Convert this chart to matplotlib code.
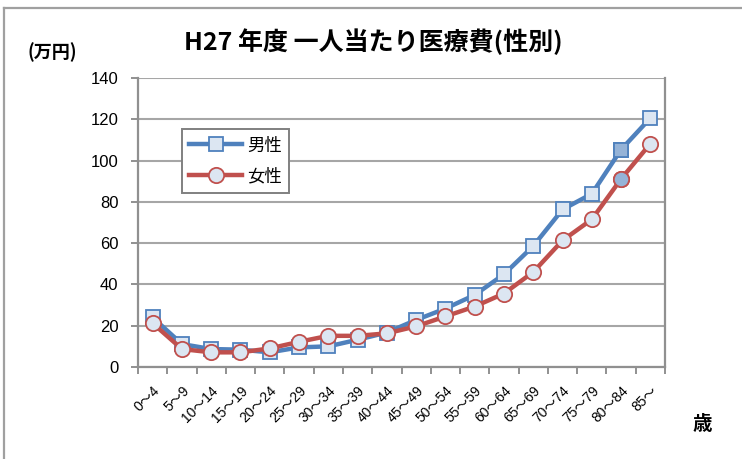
import matplotlib
matplotlib.use("Agg")
import matplotlib.pyplot as plt
from matplotlib.lines import Line2D
import numpy as np

plt.rcParams['font.family'] = ['Liberation Sans', 'Noto Sans CJK JP', 'DejaVu Sans']

categories = ["0～4", "5～9", "10～14", "15～19", "20～24", "25～29", "30～34", "35～39",
              "40～44", "45～49", "50～54", "55～59", "60～64", "65～69", "70～74", "75～79",
              "80～84", "85～"]
male = [24.0, 11.1, 8.7, 8.4, 7.1, 9.5, 10.0, 13.2, 16.7, 22.8, 28.3, 34.9, 44.9,
        58.6, 76.3, 83.9, 105.3, 120.6]
female = [21.2, 8.7, 7.1, 7.1, 9.0, 12.2, 15.1, 15.1, 16.3, 19.7, 24.5, 29.3, 35.6,
          46.0, 61.3, 71.5, 91.1, 108.2]
highlight_idx = 16
yticks = [0, 20, 40, 60, 80, 100, 120, 140]

blue = '#4F81BD'
red = '#C0504D'
light = '#DCE6F2'
hl = '#95B3D7'
grid = '#A6A6A6'

fig = plt.figure(figsize=(7.42, 4.59), dpi=100)
ax = fig.add_axes([138/742, 1-367/459, (665-138)/742, (367-78)/459])

x = np.arange(len(categories))
ax.plot(x, male, color=blue, lw=3.2, marker='s', ms=10, mfc=light, mec=blue, mew=1.3,
        zorder=3, solid_joinstyle='miter')
ax.plot(x, female, color=red, lw=3.2, marker='o', ms=11, mfc=light, mec=red, mew=1.3,
        zorder=4)
ax.plot([x[highlight_idx]], [male[highlight_idx]], ls='none', marker='s', ms=10, mfc=hl,
        mec=blue, mew=1.3, zorder=5)
ax.plot([x[highlight_idx]], [female[highlight_idx]], ls='none', marker='o', ms=11, mfc=hl,
        mec=red, mew=1.3, zorder=5)

ax.set_xlim(-0.5, len(categories) - 0.5)
ax.set_ylim(0, 140)
ax.set_yticks(yticks)
ax.set_yticklabels([str(v) for v in yticks], fontsize=12)
ax.yaxis.grid(True, color=grid, lw=1.5)
ax.set_axisbelow(True)
for s in ['left', 'bottom', 'right']:
    ax.spines[s].set_color('#909090')
    ax.spines[s].set_linewidth(1.6)
ax.spines['top'].set_visible(False)
ax.tick_params(axis='y', length=5, width=1.4, color='#909090', pad=9)

ax.set_xticks(x)
ax.set_xticklabels(categories, rotation=45, ha='right', rotation_mode='anchor', fontsize=10)
ax.set_xticks(np.arange(-0.5, len(categories)), minor=True)
ax.tick_params(axis='x', which='major', length=0, pad=12)
ax.tick_params(axis='x', which='minor', length=5, width=1.4, color='#909090')

leg_handles = [
    Line2D([0], [0], color=blue, lw=3.2, marker='s', ms=10, mfc=light, mec=blue, mew=1.3),
    Line2D([0], [0], color=red, lw=3.2, marker='o', ms=11, mfc=light, mec=red, mew=1.3),
]
leg = ax.legend(leg_handles, ['男性', '女性'], loc='upper left',
                bbox_to_anchor=((173-138)/527, (367-120)/289), fancybox=False,
                edgecolor='#808080', framealpha=1, prop={'family': ['Noto Sans CJK JP'], 'size': 12.5},
                handlelength=3.0, handletextpad=0.3, borderpad=0.45, labelspacing=0.75)
leg.get_frame().set_linewidth(1.4)

fig.text(373/742, 1-42/459, 'H27 年度 一人当たり医療費(性別)', ha='center', va='center',
         fontsize=18, fontweight='bold', family=['Noto Sans CJK JP'])
fig.text(52/742, 1-52/459, '(万円)', ha='center', va='center', fontsize=13,
         fontweight='bold', family=['Noto Sans CJK JP'])
fig.text(702/742, 1-424/459, '歳', ha='center', va='center', fontsize=14,
         fontweight='bold', family=['Noto Sans CJK JP'])

# outer frame
fig.add_artist(Line2D([4/742, 4/742], [0, 1-8/459], transform=fig.transFigure,
                      color='#A0A0A0', lw=1.6))
fig.add_artist(Line2D([4/742, 1], [1-8/459, 1-8/459], transform=fig.transFigure,
                      color='#A0A0A0', lw=1.6))

fig.savefig('out.png', dpi=100)
